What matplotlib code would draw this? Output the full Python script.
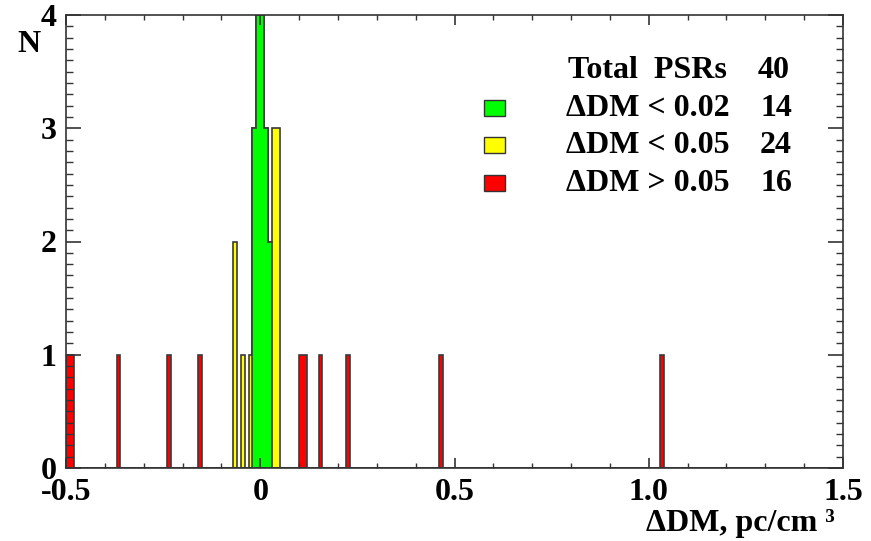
import matplotlib
matplotlib.use('Agg')
import matplotlib.pyplot as plt
import numpy as np
from matplotlib.patches import Rectangle
from matplotlib.ticker import MultipleLocator

plt.rcParams['font.family'] = ['Liberation Serif', 'DejaVu Serif']
plt.rcParams['font.weight'] = 'bold'
plt.rcParams['axes.labelweight'] = 'bold'

dm_green = [-0.015, -0.015, -0.015, -0.005, -0.005, -0.005, -0.005,
            0.005, 0.005, 0.005, 0.005, 0.015, 0.015, 0.015, 0.025, 0.025]
dm_yellow_only = [-0.065, -0.065, -0.045, -0.025,
                  0.035, 0.035, 0.035, 0.045, 0.045, 0.045]
dm_red = [-0.495, -0.485, -0.365, -0.235, -0.155, 0.105, 0.115,
          0.155, 0.225, 0.465, 1.035]

legend_labels = ['\u0394DM < 0.02', '\u0394DM < 0.05', '\u0394DM > 0.05']
legend_counts = [14, 24, 16]
legend_colors = ['#00ff00', '#ffff00', '#ff0000']
total_psrs = 40

xtick_vals = [-0.5, 0, 0.5, 1.0, 1.5]
xtick_labels = ['-0.5', '0', '0.5', '1.0', '1.5']
ytick_vals = [0, 1, 2, 3, 4]

W, H = 871, 541
FS = 23
fig = plt.figure(figsize=(W / 100, H / 100), dpi=100)
ax = fig.add_axes([66 / W, 1 - 468 / H, 777 / W, 453 / H])

edges = np.linspace(-0.5, 1.5, 201)
edge_kw = dict(histtype='stepfilled', edgecolor='#3a3a3a', linewidth=1.2)
ax.hist(dm_red, bins=edges, facecolor=legend_colors[2], **edge_kw)
ax.hist(dm_yellow_only + dm_green, bins=edges, facecolor=legend_colors[1], **edge_kw)
ax.hist(dm_green, bins=edges, facecolor=legend_colors[0], **edge_kw)

ax.set_xlim(-0.5, 1.5)
ax.set_ylim(0, 4)
ax.set_xticks(xtick_vals, labels=xtick_labels)
ax.set_yticks(ytick_vals)
ax.xaxis.set_minor_locator(MultipleLocator(0.1))
ax.yaxis.set_minor_locator(MultipleLocator(0.1))

ax.tick_params(axis='both', which='both', direction='in', top=True, right=True,
               color='#333333', labelsize=FS)
ax.tick_params(axis='x', which='major', length=7, width=1.2, pad=7)
ax.tick_params(axis='x', which='minor', length=3.5, width=1.0)
ax.tick_params(axis='y', which='major', length=11, width=1.2, pad=7)
ax.tick_params(axis='y', which='minor', length=5, width=1.0)
for s in ax.spines.values():
    s.set_color('#333333')
    s.set_linewidth(1.2)

ax.set_xlabel('\u0394DM, pc/cm \u00b3', fontsize=FS, fontweight='bold', loc='right')
ax.xaxis.set_label_coords(0.99, -0.09)
ax.text(-0.062, 0.935, 'N', transform=ax.transAxes, fontsize=FS,
        ha='left', va='center')

# legend block (figure pixel positions)
fig.text(568 / W, 1 - 70 / H, 'Total  PSRs', fontsize=FS, ha='left', va='center')
fig.text(758 / W, 1 - 70 / H, str(total_psrs), fontsize=FS, ha='left', va='center')
row_y = [108, 145, 183]
for lab, cnt, col, py in zip(legend_labels, legend_counts, legend_colors, row_y):
    fig.patches.append(Rectangle((484 / W, 1 - (py + 8) / H), 21 / W, 16 / H,
                                 facecolor=col, edgecolor='#333333', linewidth=1.0,
                                 transform=fig.transFigure, figure=fig))
    fig.text(566 / W, 1 - py / H, lab, fontsize=FS, ha='left', va='center')
    fig.text(760 / W, 1 - py / H, str(cnt), fontsize=FS, ha='left', va='center')

fig.savefig('out.png', dpi=100)
